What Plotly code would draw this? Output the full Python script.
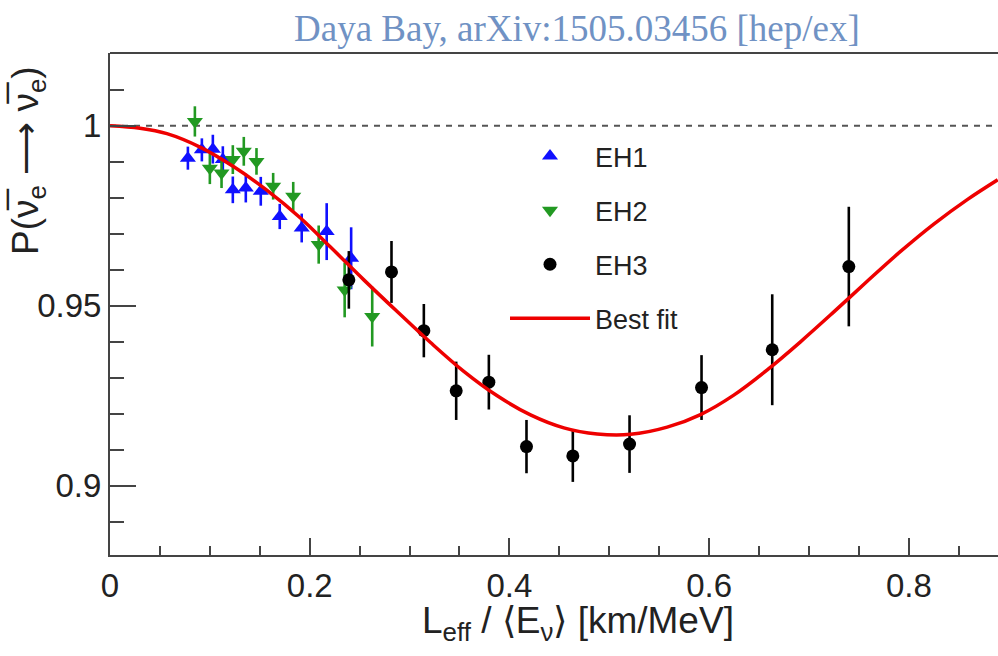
import plotly.graph_objects as go

# ---------------- data ----------------
eh1_x = [0.078, 0.092, 0.103, 0.113, 0.123, 0.136, 0.151, 0.170, 0.192, 0.217, 0.2415]
eh1_y = [0.9910, 0.9933, 0.9935, 0.9906, 0.9822, 0.9827, 0.9818, 0.9748, 0.9716, 0.9706, 0.9632]
eh1_e = [0.0032, 0.0032, 0.0040, 0.0037, 0.0037, 0.0040, 0.0040, 0.0035, 0.0040, 0.0079, 0.0086]

eh2_x = [0.085, 0.100, 0.1117, 0.123, 0.134, 0.1467, 0.1634, 0.1835, 0.209, 0.235, 0.2626]
eh2_y = [1.0012, 0.9882, 0.9869, 0.9906, 0.9929, 0.9901, 0.9832, 0.9804, 0.9670, 0.9544, 0.9470]
eh2_e = [0.0042, 0.0044, 0.0042, 0.0040, 0.0040, 0.0037, 0.0037, 0.0040, 0.0053, 0.0076, 0.0083]

eh3_x = [0.2392, 0.2819, 0.3143, 0.3467, 0.3794, 0.4171, 0.4635, 0.5203, 0.5924, 0.6632, 0.7399]
eh3_y = [0.9572, 0.9594, 0.9431, 0.9264, 0.9288, 0.9109, 0.9083, 0.9116, 0.9273, 0.9378, 0.9609]
eh3_e = [0.0080, 0.0086, 0.0074, 0.0081, 0.0076, 0.0074, 0.0072, 0.0080, 0.0090, 0.0154, 0.0166]

fit_x = [0, 0.03, 0.057, 0.0906, 0.124, 0.157, 0.191, 0.2208, 0.2542, 0.2876, 0.321, 0.3543,
         0.3878, 0.4211, 0.4545, 0.4879, 0.5213, 0.558, 0.5914, 0.6247, 0.6582, 0.6915,
         0.7249, 0.7583, 0.7917, 0.825, 0.8585, 0.889]
fit_y = [1.0, 0.9993, 0.9978, 0.9940, 0.9886, 0.9821, 0.9743, 0.9663, 0.9572, 0.9484, 0.9398, 0.9318,
         0.9250, 0.9197, 0.9161, 0.9144, 0.9143, 0.9163, 0.9198, 0.9252, 0.9322, 0.9400,
         0.9483, 0.9568, 0.9651, 0.9727, 0.9795, 0.9850]

no_osc = 1.0
x_range = [0, 0.8893]
y_range = [0.8808, 1.0202]
x_tickvals = [0, 0.2, 0.4, 0.6, 0.8]
x_ticktext = ["0", "0.2", "0.4", "0.6", "0.8"]
y_tickvals = [0.9, 0.95, 1.0]
y_ticktext = ["0.9", "0.95", "1"]

names = ["EH1", "EH2", "EH3", "Best fit"]
title_text = "Daya Bay, arXiv:1505.03456 [hep/ex]"
x_title = "L<sub>eff</sub> / \u27e8E<sub>\u03bd</sub>\u27e9 [km/MeV]"
y_title = "P(\u03bd\u0305<sub>e</sub> \u27f6 \u03bd\u0305<sub>e</sub>)"

# ---------------- figure ----------------
FONT = "Liberation Sans, Arial, sans-serif"
AX = "#444444"
fig = go.Figure()

def pts(x, y, e, name, color, symbol, size):
    return go.Scatter(
        x=x, y=y, mode="markers", name=name, legendgroup=name,
        marker=dict(color=color, symbol=symbol, size=size, line=dict(width=0)),
        error_y=dict(type="data", array=e, visible=True, color=color, thickness=2.6, width=0),
    )

fig.add_trace(pts(eh1_x, eh1_y, eh1_e, names[0], "#1010ff", "triangle-up", 14))
fig.add_trace(pts(eh2_x, eh2_y, eh2_e, names[1], "#229922", "triangle-down", 14))
fig.add_trace(pts(eh3_x, eh3_y, eh3_e, names[2], "#000000", "circle", 13))
fig.add_trace(go.Scatter(x=fit_x, y=fit_y, mode="lines", name=names[3], legendgroup=names[3],
                         line=dict(color="#ee0000", width=3.5, shape="spline", smoothing=1.0)))

fig.add_shape(type="line", xref="paper", x0=0, x1=1, yref="y", y0=no_osc, y1=no_osc,
              line=dict(color="#555555", width=2, dash="6px,6px"), layer="below")
# top frame
fig.add_shape(type="line", xref="paper", x0=0, x1=1, yref="paper", y0=1, y1=1,
              line=dict(color=AX, width=2))

fig.add_annotation(text=title_text, xref="paper", yref="paper", x=(577 - 110) / 888, y=(555 - 28) / 502,
                   xanchor="center", yanchor="middle", showarrow=False,
                   font=dict(family="Liberation Serif, Times New Roman, serif", size=37, color="#7092c4"))
fig.add_annotation(text=x_title, xref="paper", yref="paper", x=(578 - 110) / 888, y=(555 - 623) / 502,
                   xanchor="center", yanchor="middle", showarrow=False,
                   font=dict(family=FONT, size=37, color="#222222"))
fig.add_annotation(text=y_title, xref="paper", yref="paper", x=(28 - 110) / 888, y=(555 - 161) / 502,
                   xanchor="center", yanchor="middle", showarrow=False, textangle=-90,
                   font=dict(family=FONT, size=37, color="#222222"))

fig.update_xaxes(range=x_range, showgrid=False, zeroline=False, showline=True, linecolor=AX, linewidth=2,
                 ticks="inside", ticklen=17, tickwidth=2, tickcolor=AX,
                 tickvals=x_tickvals, ticktext=x_ticktext,
                 tickfont=dict(family=FONT, size=33, color="#222222"),
                 minor=dict(ticks="inside", ticklen=9, tickwidth=2, tickcolor=AX, dtick=0.05, tick0=0))
fig.update_yaxes(range=y_range, showgrid=False, zeroline=False, showline=True, linecolor=AX, linewidth=2,
                 ticks="inside", ticklen=26, tickwidth=2, tickcolor=AX,
                 tickvals=y_tickvals, ticktext=y_ticktext,
                 tickfont=dict(family=FONT, size=33, color="#222222"),
                 minor=dict(ticks="inside", ticklen=14, tickwidth=2, tickcolor=AX, dtick=0.01, tick0=0.9))

fig.update_layout(
    width=998, height=656,
    margin=dict(l=110, r=0, t=53, b=101),
    paper_bgcolor="white", plot_bgcolor="white",
    showlegend=True,
    legend=dict(x=(505 - 110) / 888, y=(555 - 132) / 502, xanchor="left", yanchor="top",
                bgcolor="rgba(0,0,0,0)", borderwidth=0, itemwidth=80,
                font=dict(family=FONT, size=27, color="#222222"), tracegroupgap=16),
)

fig.write_html("out.html")
